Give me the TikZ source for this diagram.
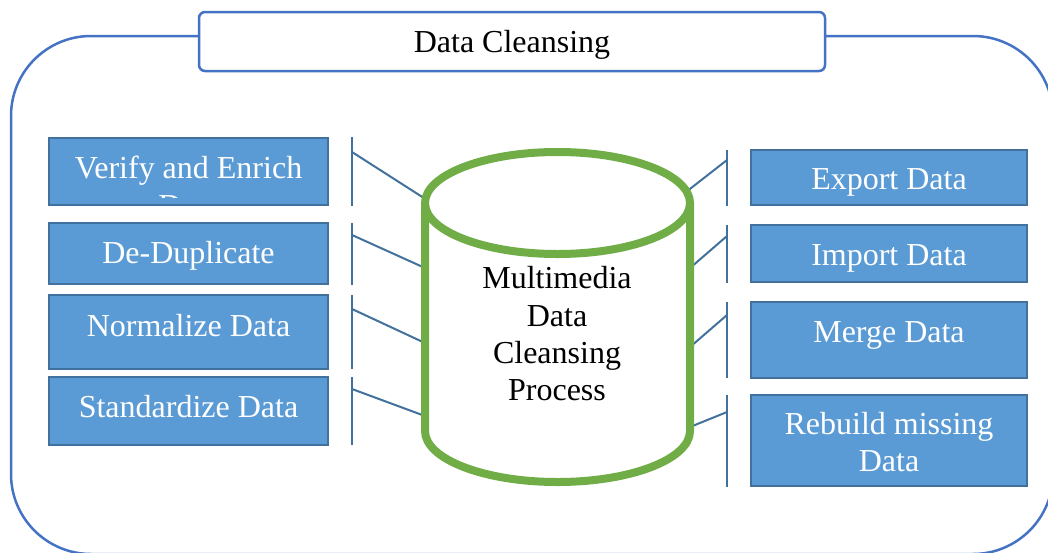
\documentclass[tikz,border=0pt]{standalone}
\usepackage{fontspec}
\setmainfont{Liberation Serif}
\definecolor{frameblue}{HTML}{4472C4}
\definecolor{boxfill}{HTML}{5B9BD5}
\definecolor{boxline}{HTML}{41719C}
\definecolor{cylgreen}{HTML}{70AD47}
\tikzset{
  stepbox/.style={draw=boxline, fill=boxfill, line width=2.5pt, inner sep=0pt},
  boxtext/.style={text=white, inner sep=0pt, anchor=base, font=\fontsize{32}{37}\selectfont},
  darktext/.style={text=black, inner sep=0pt, anchor=base, font=\fontsize{32}{37}\selectfont},
  conn/.style={draw=boxline, line width=2pt},
}
\begin{document}
\begin{tikzpicture}[x=1pt, y=-1pt]
  \useasboundingbox (0,0) rectangle (1048,552);
  \clip (0,0) rectangle (1048,552);

  % outer frame
  \draw[frameblue, line width=2.5pt, rounded corners=80pt] (11,36) rectangle (1053,554);

  % title box
  \node[draw=frameblue, fill=white, line width=2.5pt, rounded corners=6pt,
        minimum width=626pt, minimum height=59pt, inner sep=0pt] (title) at (512,41.5) {};
  \node[darktext] (titletext) at (512,52) {Data Cleansing};

  % left steps
  \node[stepbox, minimum width=279pt, minimum height=67pt] (l1) at (188.5,171.5) {};
  \node[stepbox, minimum width=279pt, minimum height=61pt] (l2) at (188.5,253.5) {};
  \node[stepbox, minimum width=279pt, minimum height=74pt] (l3) at (188.5,332) {};
  \node[stepbox, minimum width=279pt, minimum height=68pt] (l4) at (188.5,411) {};

  \node[boxtext] (l1a) at (188.5,178) {Verify and Enrich};
  \begin{scope}
    % the second line overflows the text area and is cut off
    \clip (50,139) rectangle (327,197.5);
    \node[boxtext] (l1b) at (188.5,216.5) {Data};
  \end{scope}
  \node[boxtext] (l2a) at (188.5,263) {De-Duplicate};
  \node[boxtext] (l3a) at (188.5,336) {Normalize Data};
  \node[boxtext] (l4a) at (188.5,417) {Standardize Data};

  % right steps
  \node[stepbox, minimum width=276pt, minimum height=55pt] (r1) at (889,177.5) {};
  \node[stepbox, minimum width=276pt, minimum height=57pt] (r2) at (889,253.5) {};
  \node[stepbox, minimum width=276pt, minimum height=76pt] (r3) at (889,340) {};
  \node[stepbox, minimum width=276pt, minimum height=91pt] (r4) at (889,440.5) {};

  \node[boxtext] (r1a) at (889,189) {Export Data};
  \node[boxtext] (r2a) at (889,265) {Import Data};
  \node[boxtext] (r3a) at (889,342) {Merge Data};
  \node[boxtext] (r4a) at (889,434) {Rebuild missing};
  \node[boxtext] (r4b) at (889,471) {Data};

  % bracket bars
  \coordinate (lb1t) at (352,137); \coordinate (lb1b) at (352,206);
  \coordinate (lb2t) at (352,223); \coordinate (lb2b) at (352,285);
  \coordinate (lb3t) at (352,295); \coordinate (lb3b) at (352,369);
  \coordinate (lb4t) at (352,377); \coordinate (lb4b) at (352,445);
  \coordinate (rb1t) at (727,150); \coordinate (rb1b) at (727,206);
  \coordinate (rb2t) at (727,225); \coordinate (rb2b) at (727,283);
  \coordinate (rb3t) at (727,302); \coordinate (rb3b) at (727,378);
  \coordinate (rb4t) at (727,395); \coordinate (rb4b) at (727,487);
  \foreach \s in {lb1,lb2,lb3,lb4,rb1,rb2,rb3,rb4}
    \draw[conn] (\s t) -- (\s b);

  % links into the cylinder
  \coordinate (ls1) at (352,152); \coordinate (lc1) at (427,200);
  \coordinate (ls2) at (352,235); \coordinate (lc2) at (425,268);
  \coordinate (ls3) at (352,309); \coordinate (lc3) at (425,343);
  \coordinate (ls4) at (352,389); \coordinate (lc4) at (425,416);
  \coordinate (rs1) at (727,160); \coordinate (rc1) at (686,192);
  \coordinate (rs2) at (727,236); \coordinate (rc2) at (690,268);
  \coordinate (rs3) at (727,315); \coordinate (rc3) at (690,347);
  \coordinate (rs4) at (727,412); \coordinate (rc4) at (690,427);
  \foreach \i in {1,2,3,4} {
    \draw[conn] (ls\i) -- (lc\i);
    \draw[conn] (rs\i) -- (rc\i);
  }

  % cylinder
  \draw[cylgreen, line width=8pt, fill=white, line join=round]
    (425,203) -- (425,431)
    arc[start angle=180, end angle=360, x radius=132.5pt, y radius=51pt]
    -- (690,203);
  \draw[cylgreen, line width=8pt, fill=white] (557.5,203) ellipse [x radius=132.5pt, y radius=51pt];

  \node[darktext] (c1) at (557,288) {Multimedia};
  \node[darktext] (c2) at (557,326) {Data};
  \node[darktext] (c3) at (557,363) {Cleansing};
  \node[darktext] (c4) at (557,400) {Process};
\end{tikzpicture}
\end{document}
